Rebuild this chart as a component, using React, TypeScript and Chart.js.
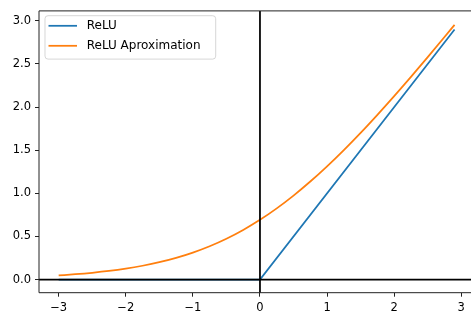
import React, { useEffect, useRef } from "react";
import { Chart, registerables } from "chart.js";
Chart.register(...registerables);

const seriesLabels = ["ReLU", "ReLU Aproximation"];
const reluX = [-3, 0, 2.9];
const reluY = [0, 0, 2.9];
const approxX = [-3, -2.75, -2.5, -2.25, -2, -1.75, -1.5, -1.25, -1, -0.75, -0.5, -0.25, 0, 0.25, 0.5, 0.75, 1, 1.25, 1.5, 1.75, 2, 2.25, 2.5, 2.75, 2.9];
const approxY = [0.0486, 0.062, 0.0789, 0.0999, 0.1269, 0.1606, 0.2014, 0.2519, 0.3133, 0.3869, 0.4741, 0.5759, 0.6931, 0.8259, 0.9741, 1.1369, 1.3133, 1.5019, 1.7014, 1.9106, 2.1269, 2.35, 2.5789, 2.812, 2.9535];
const xTicks = [-3, -2, -1, 0, 1, 2, 3];
const yTicks = [0, 0.5, 1, 1.5, 2, 2.5, 3];

const FONT = "DejaVu Sans";
const FS = 11.5;
const LFS = 12;
const colors = ["#1f77b4", "#ff7f0e"];

const fmtX = (v: number) => (v < 0 ? "\u2212" + Math.abs(v) : String(v));
const fmtY = (v: number) => v.toFixed(1);

const decor = {
  id: "decor",
  afterDatasetsDraw(chart: any) {
    const { ctx, chartArea: a, scales } = chart;
    const x0 = scales.x.getPixelForValue(0);
    const y0 = scales.y.getPixelForValue(0);
    ctx.save();
    ctx.strokeStyle = "#000";
    ctx.lineWidth = 1.75;
    ctx.beginPath();
    ctx.moveTo(a.left, y0);
    ctx.lineTo(a.right, y0);
    ctx.moveTo(x0, a.top);
    ctx.lineTo(x0, a.bottom);
    ctx.stroke();
    ctx.lineWidth = 1;
    ctx.strokeStyle = "#222";
    ctx.beginPath();
    ctx.moveTo(a.left, a.bottom);
    ctx.lineTo(a.left, a.top);
    ctx.lineTo(a.right + 2, a.top);
    ctx.moveTo(a.left, a.bottom);
    ctx.lineTo(a.right + 2, a.bottom);
    ctx.stroke();
    ctx.restore();
  },
  afterDraw(chart: any) {
    const { ctx } = chart;
    ctx.save();
    const bx = 45, by = 15.7, bw = 170.7, bh = 43.4, r = 3;
    ctx.beginPath();
    ctx.moveTo(bx + r, by);
    ctx.arcTo(bx + bw, by, bx + bw, by + bh, r);
    ctx.arcTo(bx + bw, by + bh, bx, by + bh, r);
    ctx.arcTo(bx, by + bh, bx, by, r);
    ctx.arcTo(bx, by, bx + bw, by, r);
    ctx.closePath();
    ctx.fillStyle = "rgba(255,255,255,0.8)";
    ctx.fill();
    ctx.strokeStyle = "rgba(204,204,204,0.8)";
    ctx.lineWidth = 1;
    ctx.stroke();
    const rows = [25.8, 45.8];
    ctx.font = `${LFS}px "${FONT}"`;
    ctx.textBaseline = "middle";
    ctx.textAlign = "left";
    seriesLabels.forEach((lab, i) => {
      ctx.strokeStyle = colors[i];
      ctx.lineWidth = 1.75;
      ctx.beginPath();
      ctx.moveTo(48.5, rows[i]);
      ctx.lineTo(77, rows[i]);
      ctx.stroke();
      ctx.fillStyle = "#000";
      ctx.fillText(lab, 86.7, rows[i] + 0.5);
    });
    ctx.restore();
  },
};

export default function App() {
  const ref = useRef<HTMLCanvasElement>(null);
  useEffect(() => {
    const chart = new Chart(ref.current!, {
      type: "line",
      data: {
        datasets: [
          {
            label: seriesLabels[0],
            data: reluX.map((x, i) => ({ x, y: reluY[i] })),
            borderColor: colors[0],
            borderWidth: 1.75,
            pointRadius: 0,
            tension: 0,
          },
          {
            label: seriesLabels[1],
            data: approxX.map((x, i) => ({ x, y: approxY[i] })),
            borderColor: colors[1],
            borderWidth: 1.75,
            pointRadius: 0,
            cubicInterpolationMode: "monotone",
          },
        ],
      },
      options: {
        responsive: false,
        animation: false,
        devicePixelRatio: 1,
        layout: { padding: { top: 9, left: 0, right: 0, bottom: 0 } },
        plugins: { legend: { display: false }, tooltip: { enabled: false } },
        scales: {
          x: {
            type: "linear",
            min: -3.293,
            max: 3.145,
            afterBuildTicks: (s: any) => {
              s.ticks = xTicks.map((v) => ({ value: v }));
            },
            afterFit: (s: any) => {
              s.height = 27.3;
            },
            ticks: {
              callback: (v: any) => fmtX(Number(v)),
              font: { family: FONT, size: FS },
              color: "#000",
              padding: 4,
              maxRotation: 0,
              autoSkip: false,
            },
            grid: { display: true, drawOnChartArea: false, drawTicks: true, tickLength: 4, tickColor: "#222", lineWidth: 1 },
            border: { display: false },
          },
          y: {
            type: "linear",
            min: -0.152,
            max: 3.115,
            afterBuildTicks: (s: any) => {
              s.ticks = yTicks.map((v) => ({ value: v }));
            },
            afterFit: (s: any) => {
              s.width = 39;
            },
            ticks: {
              callback: (v: any) => fmtY(Number(v)),
              font: { family: FONT, size: FS },
              color: "#000",
              padding: 4,
              autoSkip: false,
            },
            grid: { display: true, drawOnChartArea: false, drawTicks: true, tickLength: 4, tickColor: "#222", lineWidth: 1 },
            border: { display: false },
          },
        },
      },
      plugins: [decor],
    } as any);
    return () => chart.destroy();
  }, []);
  return (
    <div style={{ position: "fixed", left: 0, top: 0, width: 471, height: 320, background: "#fff" }}>
      <canvas ref={ref} width={471} height={320} />
    </div>
  );
}
